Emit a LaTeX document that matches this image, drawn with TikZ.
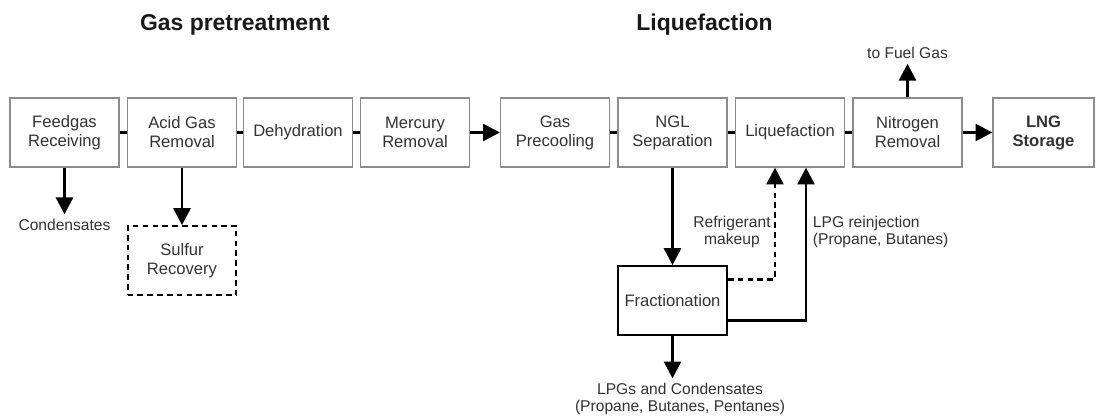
\documentclass[tikz,border=0pt]{standalone}
\usepackage{fontspec}
\setmainfont{Liberation Sans}
\usetikzlibrary{arrows.meta,calc}
\definecolor{ink}{HTML}{333333}
\definecolor{rim}{HTML}{8C8C8C}

\begin{document}
\begin{tikzpicture}[x=.025cm,y=.025cm,font=\fontsize{11.8}{13.5}\selectfont,
 head/.style={font=\bfseries\fontsize{16.3}{19}\selectfont,text=black!90},
 unit/.style={draw=rim,fill=white,line width=1pt,text=ink,align=center,
  minimum width=2.72cm,minimum height=1.72cm,inner sep=2pt},
 aux/.style={draw=black,fill=white,line width=1.4pt,text=ink,align=center,
  minimum width=2.72cm,minimum height=1.72cm,inner sep=2pt},
 lbl/.style={text=ink,align=center,font=\fontsize{11.1}{11.9}\selectfont},
 link/.style={draw=black,line width=2.1pt},
 flow/.style={-{Triangle[length=12pt,width=12pt]},draw=black,line width=2.1pt},
 broken/.style={dash pattern=on 4pt off 3pt}]
\path[use as bounding box] (0,0) rectangle (1096,417);
\node[head] (hpre) at (235,392) {Gas pretreatment};
\node[head] (hliq) at (704.5,392) {Liquefaction};
% main train of process units
\node[unit] (fg) at (64.5,284.5) {Feedgas\\Receiving};
\node[unit] (ag) at (182,284.5) {Acid Gas\\Removal};
\node[unit] (dh) at (298,284.5) {Dehydration};
\node[unit] (hg) at (415,284.5) {Mercury\\Removal};
\node[unit] (gp) at (555,284.5) {Gas\\Precooling};
\node[unit] (ngl) at (672.5,284.5) {NGL\\Separation};
\node[unit] (lq) at (790,284.5) {Liquefaction};
\node[unit] (nr) at (907.5,284.5) {Nitrogen\\Removal};
\node[unit,minimum width=2.52cm,font=\bfseries\fontsize{11.8}{13.5}\selectfont] (lng) at (1043.5,284.5) {LNG\\Storage};
\foreach \a/\b in {fg/ag,ag/dh,dh/hg,gp/ngl,ngl/lq,lq/nr}
 \draw[link] (\a) -- (\b);
\draw[flow] (hg) -- (gp);
\draw[flow] (nr) -- (lng);
% side streams
\node[lbl] (cond) at (64.5,192) {Condensates};
\draw[flow] (fg) -- (cond);
\node[aux,broken] (sr) at (182,156.5) {Sulfur\\Recovery};
\draw[flow] (ag) -- (sr);
\node[lbl] (fuel) at (907.5,364) {to Fuel Gas};
\draw[flow] (nr) -- (fuel);
\node[aux] (fr) at (672.5,116.5) {Fractionation};
\draw[flow] (ngl) -- (fr);
\node[lbl] (lpgs) at (680,18) {LPGs and Condensates\\(Propane, Butanes, Pentanes)};
\draw[flow] (fr.south) -- (fr.south |- lpgs.north);
% recycle to liquefaction
\draw[flow,broken] ($(fr.north east)+(0,-14)$) -| ($(lq.south)+(-15,0)$);
\draw[flow] ($(fr.south east)+(0,15)$) -| ($(lq.south)+(16,0)$);
\node[lbl] (refr) at (732,185) {Refrigerant\\makeup};
\node[lbl,align=left,anchor=west] (reinj) at (808,185) {LPG reinjection\\(Propane, Butanes)};
\end{tikzpicture}
\end{document}
